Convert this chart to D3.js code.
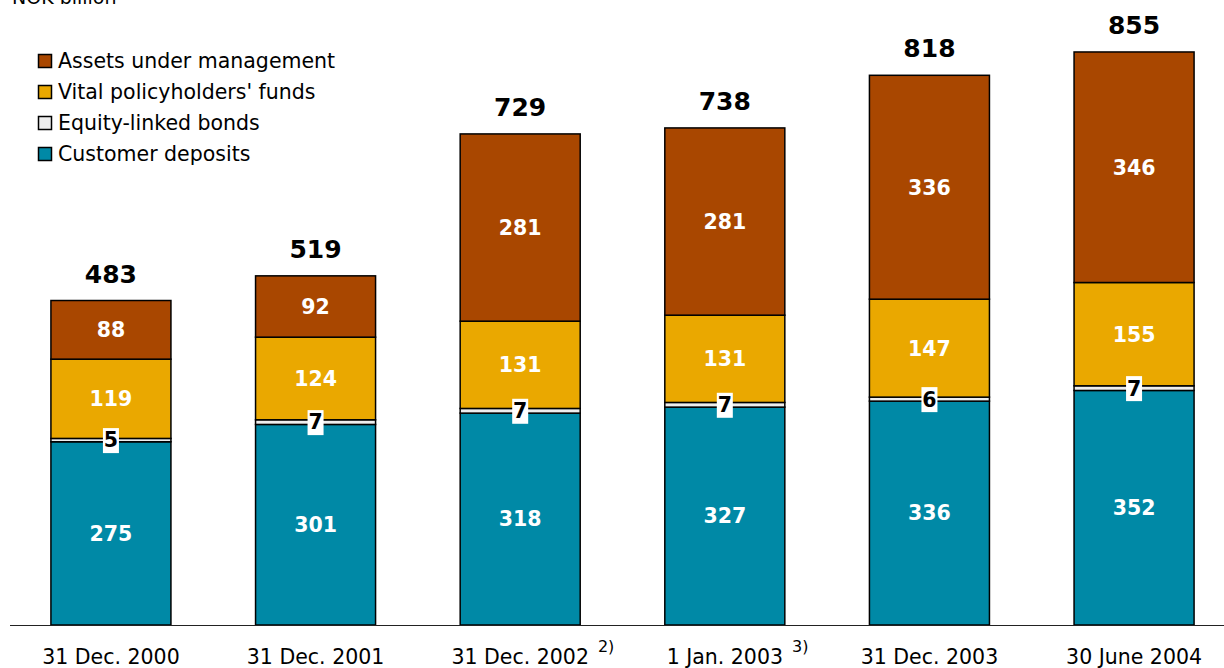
<!DOCTYPE html>
<html>
<head>
<meta charset="utf-8">
<script src="https://cdn.jsdelivr.net/npm/d3@7"></script>
<style>
  body { margin: 0; background: #fff; }
  text { font-family: "DejaVu Sans", Verdana, sans-serif; }
</style>
</head>
<body>
<svg id="chart" width="1224" height="668"></svg>
<script>
// data
const categories = ["31 Dec. 2000", "31 Dec. 2001", "31 Dec. 2002", "1 Jan. 2003", "31 Dec. 2003", "30 June 2004"];
const footnotes = ["", "", "2)", "3)", "", ""];
const customerDeposits = [275, 301, 318, 327, 336, 352];
const equityLinked = [5, 7, 7, 7, 6, 7];
const vitalFunds = [119, 124, 131, 131, 147, 155];
const assetsMgmt = [88, 92, 281, 281, 336, 346];
const totals = [483, 519, 729, 738, 818, 855];

const seriesNames = ["Customer deposits", "Equity-linked bonds", "Vital policyholders' funds", "Assets under management"];
const seriesColors = ["#0089a6", "#eeeeee", "#eaa800", "#a94700"];
const seriesValues = [customerDeposits, equityLinked, vitalFunds, assetsMgmt];

const svg = d3.select("#chart");
const baseY = 625;

const x = d3.scaleBand()
  .domain(categories)
  .range([10, 1235])
  .paddingInner(0.4135)
  .paddingOuter(0.2);

const y = d3.scaleLinear()
  .domain([0, 938])
  .range([baseY, 0]);

// build stacked rows
const rows = categories.map((c, i) => {
  const r = { cat: c };
  seriesNames.forEach((s, j) => r[s] = seriesValues[j][i]);
  return r;
});
const stack = d3.stack().keys(seriesNames)(rows);

// "NOK billion" label, cut off at the top like in the original
svg.append("text")
  .attr("x", 12)
  .attr("y", 4)
  .attr("font-size", 19)
  .attr("fill", "#000")
  .text("NOK billion");

// bars
const layers = svg.selectAll("g.layer")
  .data(stack)
  .enter()
  .append("g")
  .attr("class", "layer")
  .attr("fill", (d, i) => seriesColors[i]);

layers.selectAll("rect")
  .data(d => d)
  .enter()
  .append("rect")
  .attr("x", d => x(d.data.cat))
  .attr("y", d => y(d[1]))
  .attr("width", x.bandwidth())
  .attr("height", d => y(d[0]) - y(d[1]))
  .attr("stroke", "#000")
  .attr("stroke-width", 1.5);

// axis line
svg.append("line")
  .attr("x1", 10)
  .attr("x2", 1224)
  .attr("y1", baseY + 0.5)
  .attr("y2", baseY + 0.5)
  .attr("stroke", "#222")
  .attr("stroke-width", 1);

// segment labels (white, bold), except equity-linked
stack.forEach((layer, j) => {
  if (j === 1) return;
  svg.append("g").selectAll("text")
    .data(layer)
    .enter()
    .append("text")
    .attr("x", d => x(d.data.cat) + x.bandwidth() / 2)
    .attr("y", d => (y(d[0]) + y(d[1])) / 2)
    .attr("dy", "0.36em")
    .attr("text-anchor", "middle")
    .attr("font-size", 20.5)
    .attr("font-weight", "bold")
    .attr("fill", "#fff")
    .text(d => seriesValues[j][categories.indexOf(d.data.cat)]);
});

// equity-linked labels: black on white box
const eq = svg.append("g").selectAll("g")
  .data(stack[1])
  .enter()
  .append("g")
  .attr("transform", d => `translate(${x(d.data.cat) + x.bandwidth() / 2},${(y(d[0]) + y(d[1])) / 2})`);
eq.append("rect")
  .attr("x", -8)
  .attr("y", -12)
  .attr("width", 16)
  .attr("height", 25)
  .attr("fill", "#fff");
eq.append("text")
  .attr("dy", "0.36em")
  .attr("text-anchor", "middle")
  .attr("font-size", 20.5)
  .attr("font-weight", "bold")
  .attr("fill", "#000")
  .text((d, i) => equityLinked[i]);

// totals
svg.append("g").selectAll("text")
  .data(stack[3])
  .enter()
  .append("text")
  .attr("x", d => x(d.data.cat) + x.bandwidth() / 2)
  .attr("y", d => y(d[1]) - 27)
  .attr("dy", "0.36em")
  .attr("text-anchor", "middle")
  .attr("font-size", 25)
  .attr("font-weight", "bold")
  .attr("fill", "#000")
  .text((d, i) => totals[i]);

// category labels
const xl = svg.append("g").selectAll("g")
  .data(categories)
  .enter()
  .append("g")
  .attr("transform", d => `translate(${x(d) + x.bandwidth() / 2},657)`);
xl.append("text")
  .attr("class", "cat")
  .attr("dy", "0.36em")
  .attr("text-anchor", "middle")
  .attr("font-size", 20.5)
  .attr("fill", "#000")
  .text(d => d);
// footnote markers sit just after the end of the label
xl.append("text")
  .attr("x", function() {
    const w = this.parentNode.querySelector("text.cat").getComputedTextLength();
    return w / 2 + 9;
  })
  .attr("y", -11)
  .attr("dy", "0.36em")
  .attr("font-size", 16)
  .attr("fill", "#000")
  .text((d, i) => footnotes[i]);

// legend (reverse order, top = assets under management)
const legendOrder = [3, 2, 1, 0];
const lg = svg.append("g").selectAll("g")
  .data(legendOrder)
  .enter()
  .append("g")
  .attr("transform", (d, i) => `translate(38,${61 + i * 31})`);
lg.append("rect")
  .attr("x", 0.5)
  .attr("y", -6.5)
  .attr("width", 13)
  .attr("height", 13)
  .attr("fill", d => seriesColors[d])
  .attr("stroke", "#000")
  .attr("stroke-width", 1.5);
lg.append("text")
  .attr("x", 20)
  .attr("dy", "0.36em")
  .attr("font-size", 20.5)
  .attr("fill", "#000")
  .text(d => seriesNames[d]);
</script>
</body>
</html>
